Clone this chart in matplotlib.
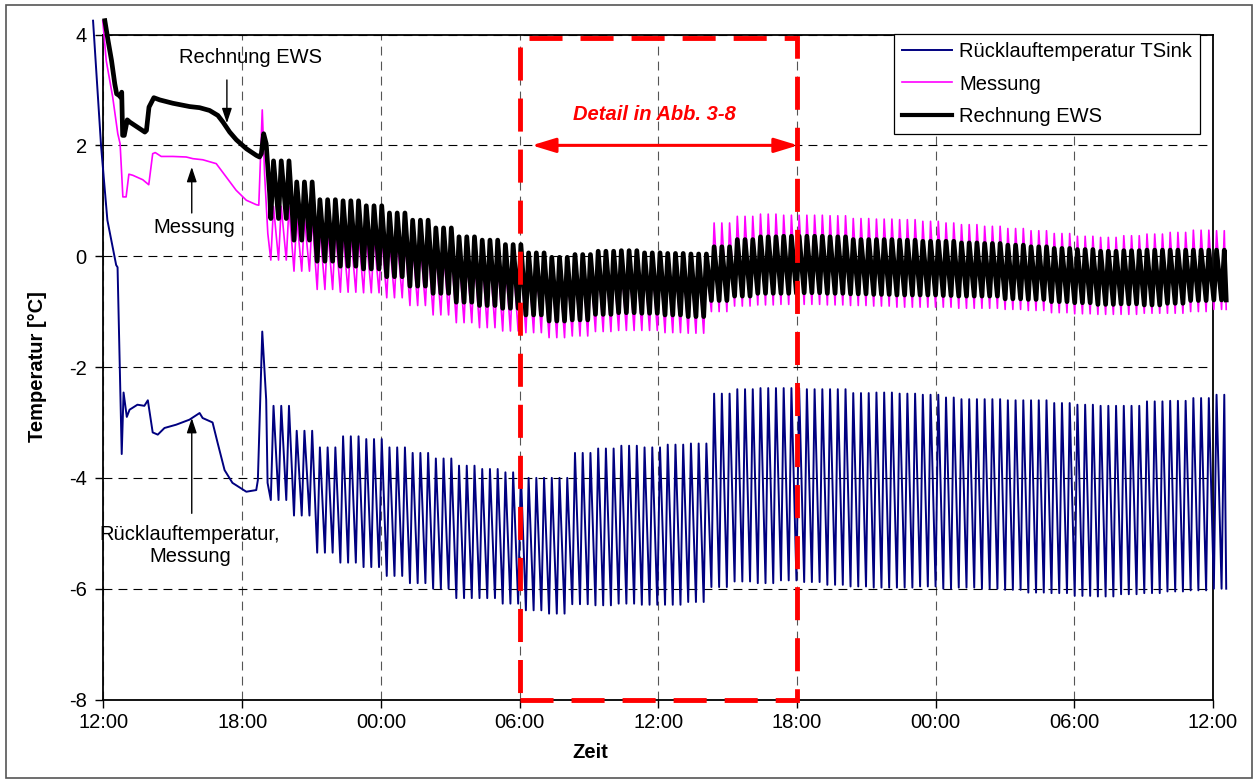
import numpy as np
import matplotlib
matplotlib.use('Agg')
from matplotlib import pyplot as plt
from matplotlib.lines import Line2D
from matplotlib.patches import Rectangle

plt.rcParams['font.family'] = ['Liberation Sans', 'DejaVu Sans']
plt.rcParams['font.size'] = 14.5

# Zeitachse in Stunden ab 12:00 Uhr
x_ticks = [0, 6, 12, 18, 24, 30, 36, 42, 48]
x_labels = ['12:00', '18:00', '00:00', '06:00', '12:00', '18:00', '00:00', '06:00', '12:00']
y_ticks = [4, 2, 0, -2, -4, -6, -8]

# Anfahrphase (vor dem Taktbetrieb): Zeit [h], Temperatur [°C]
t_tsink_start = [-0.45, -0.1, 0.17, 0.55, 0.61, 0.79, 0.87, 1.01, 1.13, 1.47, 1.77, 1.92, 2.13, 2.35,
                 2.64, 3.15, 3.72, 4.16, 4.29, 4.72, 4.94, 5.24, 5.58, 6.18, 6.61, 6.68, 6.87, 7.04, 7.10]
v_tsink_start = [4.25, 1.97, 0.65, -0.16, -0.2, -3.57, -2.46, -2.9, -2.77, -2.68, -2.70, -2.6, -3.18, -3.22,
                 -3.1, -3.04, -2.95, -2.83, -2.92, -3.0, -3.37, -3.86, -4.09, -4.25, -4.22, -4.04, -1.36, -2.59, -4.09]

t_mess_start = [-0.03, 0.12, 0.40, 0.62, 0.72, 0.84, 0.98, 1.10, 1.27, 1.70, 1.96, 2.13, 2.24, 2.50,
                3.0, 3.58, 3.87, 4.30, 4.88, 5.31, 5.74, 6.18, 6.61, 6.72, 6.78, 6.87, 6.97, 7.11]
v_mess_start = [4.25, 3.53, 2.87, 2.21, 2.03, 1.07, 1.07, 1.48, 1.46, 1.38, 1.29, 1.85, 1.87, 1.80,
                1.80, 1.79, 1.76, 1.74, 1.67, 1.43, 1.19, 1.01, 0.93, 0.92, 1.61, 2.64, 1.49, 0.41]

t_ews_start = [0.06, 0.2, 0.35, 0.49, 0.57, 0.68, 0.74, 0.79, 0.83, 0.9, 1.03, 1.14, 1.43, 1.79, 1.86,
               1.97, 2.18, 2.44, 3.0, 3.73, 4.16, 4.59, 4.95, 5.17, 5.46, 5.75, 6.18, 6.61, 6.75, 6.83,
               6.93, 7.04, 7.19]
v_ews_start = [4.25, 3.89, 3.53, 3.11, 2.93, 2.90, 2.87, 2.96, 2.18, 2.18, 2.46, 2.42, 2.34, 2.24, 2.27,
               2.69, 2.86, 2.82, 2.76, 2.70, 2.68, 2.63, 2.54, 2.42, 2.24, 2.10, 1.94, 1.82, 1.79, 1.85,
               2.21, 2.03, 1.13]

# Taktbetrieb: Maxima / Minima je Stunde (Stunde 7 bis 48)
tsink_max = [-2.7, -3.15, -3.45, -3.25, -3.3, -3.45, -3.55, -3.65, -3.78, -3.84, -3.9, -4.0, -4.0, -3.55,
             -3.47, -3.42, -3.45, -3.4, -3.38, -2.48, -2.4, -2.38, -2.38, -2.4, -2.4, -2.47, -2.46, -2.48,
             -2.5, -2.55, -2.58, -2.58, -2.6, -2.6, -2.65, -2.68, -2.7, -2.7, -2.62, -2.61, -2.56, -2.5]
tsink_min = [-4.4, -4.68, -5.35, -5.53, -5.61, -5.77, -5.9, -6.0, -6.17, -6.17, -6.27, -6.39, -6.45, -6.28,
             -6.3, -6.27, -6.29, -6.29, -6.24, -5.97, -5.87, -5.9, -5.85, -5.88, -5.93, -5.96, -5.98, -5.98,
             -5.96, -6.0, -5.98, -6.0, -6.02, -6.07, -6.08, -6.13, -6.14, -6.1, -6.08, -6.05, -6.03, -6.0]
mess_max = [0.9, 0.7, 0.5, 0.4, 0.35, 0.3, 0.2, 0.1, 0.0, -0.05, -0.1, -0.15, -0.2, -0.15,
            -0.1, -0.1, -0.1, -0.1, -0.1, 0.6, 0.72, 0.76, 0.74, 0.74, 0.73, 0.68, 0.67, 0.66,
            0.63, 0.6, 0.57, 0.54, 0.5, 0.46, 0.41, 0.36, 0.34, 0.37, 0.4, 0.43, 0.47, 0.46]
mess_min = [-0.07, -0.27, -0.6, -0.65, -0.66, -0.75, -0.89, -1.06, -1.2, -1.29, -1.35, -1.38, -1.47, -1.44,
            -1.36, -1.34, -1.34, -1.38, -1.39, -1.0, -0.9, -0.88, -0.87, -0.87, -0.88, -0.89, -0.9, -0.92,
            -0.92, -0.92, -0.94, -0.94, -0.96, -0.98, -1.02, -1.04, -1.05, -1.05, -1.03, -1.03, -1.0, -0.96]
ews_max = [1.72, 1.34, 1.02, 1.0, 0.91, 0.78, 0.65, 0.51, 0.35, 0.29, 0.21, 0.06, -0.02, 0.03,
           0.09, 0.1, 0.06, 0.05, 0.04, 0.17, 0.3, 0.35, 0.36, 0.36, 0.35, 0.3, 0.3, 0.29,
           0.27, 0.27, 0.24, 0.23, 0.2, 0.17, 0.14, 0.12, 0.09, 0.1, 0.11, 0.11, 0.11, 0.11]
ews_min = [0.68, 0.29, -0.09, -0.18, -0.23, -0.37, -0.54, -0.67, -0.83, -0.89, -0.94, -1.06, -1.17, -1.15,
           -1.05, -1.02, -1.03, -1.06, -1.09, -0.8, -0.72, -0.67, -0.67, -0.66, -0.67, -0.68, -0.69, -0.7,
           -0.7, -0.71, -0.72, -0.72, -0.77, -0.78, -0.82, -0.84, -0.87, -0.86, -0.88, -0.85, -0.8, -0.79]

takt_beginn = 7.24     # h
takt_dauer = 0.3344    # h pro Takt
n_takte = 124


def reihe(t_start, v_start, v_max, v_min):
    t = list(t_start)
    v = list(v_start)
    for k in range(n_takte):
        tk = takt_beginn + k * takt_dauer
        i = int(tk) - 7
        t += [tk, tk + 0.35 * takt_dauer]
        v += [v_min[i], v_max[i]]
    t.append(t[-1] + 0.25 * takt_dauer)
    v.append(v_min[i])
    return t, v


t_tsink, v_tsink = reihe(t_tsink_start, v_tsink_start, tsink_max, tsink_min)
t_mess, v_mess = reihe(t_mess_start, v_mess_start, mess_max, mess_min)
t_ews, v_ews = reihe(t_ews_start, v_ews_start, ews_max, ews_min)

fig = plt.figure(figsize=(12.54, 7.83), dpi=100)
ax = fig.add_axes([0.0825, 0.1066, 0.8848, 0.8493])

ax.plot(t_tsink, v_tsink, color='#000080', lw=1.4, clip_on=False, zorder=3)
ax.plot(t_mess, v_mess, color='#ff00ff', lw=1.2, clip_on=False, zorder=3)
ax.plot(t_ews, v_ews, color='black', lw=3.4, clip_on=False, zorder=4, solid_joinstyle='round')

ax.set_xlim(0, 48)
ax.set_ylim(-8, 4)
ax.set_xticks(x_ticks)
ax.set_xticklabels(x_labels)
ax.set_yticks(y_ticks)
ax.set_yticklabels([str(y) for y in y_ticks])
ax.tick_params(direction='out', length=6, width=1, pad=4)
ax.tick_params(axis='y', pad=6)
ax.xaxis.grid(True, linestyle=(0, (8, 5.5)), linewidth=0.8, color='#555555')
ax.yaxis.grid(True, linestyle=(0, (8, 5.5)), linewidth=0.8, color='black')
for s in ax.spines.values():
    s.set_linewidth(1.3)

fig.text(590 / 1254, 1 - 752 / 783, 'Zeit', ha='center', va='center', fontweight='bold')
fig.text(38 / 1254, 1 - 367 / 783, 'Temperatur [°C]', ha='center', va='center',
         rotation=90, fontweight='bold')

# Detailbereich
box = Rectangle((18, -8), 12, 11.94, fill=False, edgecolor='red', lw=3.5,
                linestyle=(0, (6.8, 3.7)), zorder=6, clip_on=False)
ax.add_patch(box)
ax.annotate('', xy=(30.05, 2), xytext=(18.53, 2),
            arrowprops=dict(arrowstyle='<|-|>,head_length=0.72,head_width=0.22', color='red',
                            lw=2.2, mutation_scale=20, shrinkA=0, shrinkB=0), zorder=7)
ax.text(23.82, 2.55, 'Detail in Abb. 3-8', color='red', fontweight='bold', fontstyle='italic',
        ha='center', va='center', zorder=7)

# Beschriftungen mit Pfeilen
pfeil = dict(arrowstyle='-|>,head_length=0.6,head_width=0.2', color='black', lw=1,
             mutation_scale=15, shrinkA=0, shrinkB=0)
ax.annotate('', xy=(5.34, 2.40), xytext=(5.34, 3.18), arrowprops=pfeil, zorder=7)
ax.text(6.34, 3.59, 'Rechnung EWS', ha='center', va='center', zorder=7)
ax.annotate('', xy=(3.82, 1.61), xytext=(3.82, 0.78), arrowprops=pfeil, zorder=7)
ax.text(3.94, 0.51, 'Messung', ha='center', va='center', zorder=7)
ax.annotate('', xy=(3.82, -2.92), xytext=(3.82, -4.64), arrowprops=pfeil, zorder=7)
ax.text(3.74, -5.22, 'Rücklauftemperatur,\nMessung', ha='center', va='center',
        multialignment='center', zorder=7)

handles = [Line2D([], [], color='#000080', lw=1.4),
           Line2D([], [], color='#ff00ff', lw=1.2),
           Line2D([], [], color='black', lw=3)]
leg = fig.legend(handles, ['Rücklauftemperatur TSink', 'Messung', 'Rechnung EWS'],
                 loc='upper right', bbox_to_anchor=(1200 / 1254, 1 - 34 / 783), borderaxespad=0,
                 fancybox=False, framealpha=1, edgecolor='black', labelspacing=0.67,
                 handlelength=2.5, handletextpad=0.35, borderpad=0.4)
leg.get_frame().set_linewidth(0.9)
leg.set_zorder(10)

fig.patches.append(Rectangle((6 / 1254, 5 / 783), 1246 / 1254, 773 / 783, transform=fig.transFigure,
                             fill=False, edgecolor='#555555', lw=1.2))

fig.savefig('out.png', dpi=100)
